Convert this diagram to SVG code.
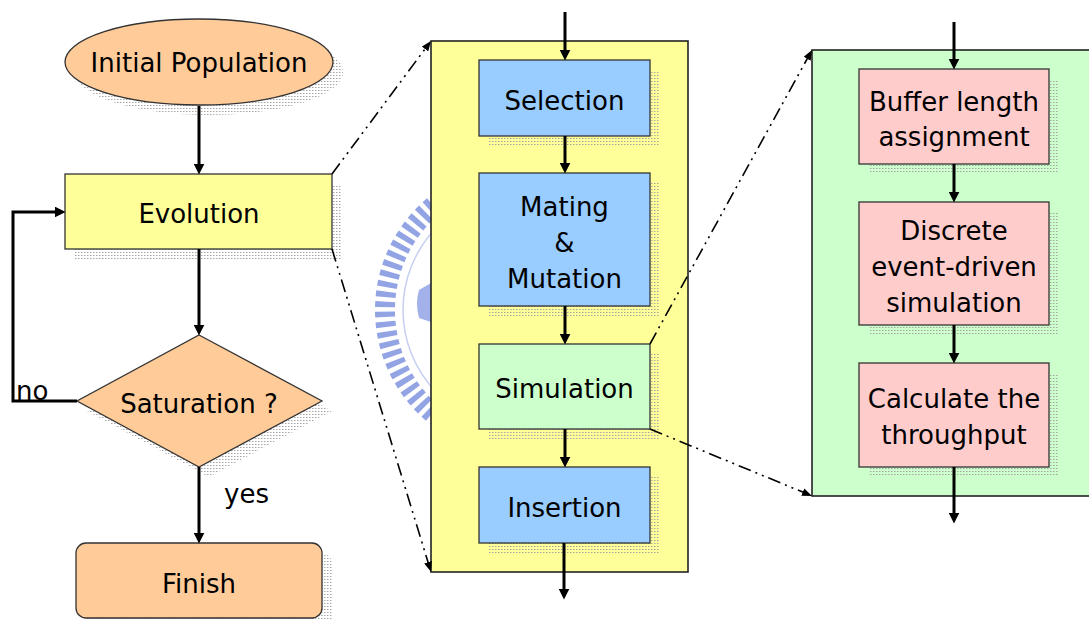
<svg xmlns="http://www.w3.org/2000/svg" width="1089" height="620" viewBox="0 0 1089 620">
  <defs>
    <style>
      text { font-family: "DejaVu Sans", "Liberation Sans", sans-serif; font-size: 26px; fill: #000; }
      .c { text-anchor: middle; }
      .box { stroke: #333; stroke-width: 1.3; }
      .panel { stroke: #222; stroke-width: 1.6; }
      .shadow { fill: url(#dots); stroke: none; }
      .flow { fill: none; stroke: #000; stroke-width: 3; marker-end: url(#arrow); }
      .zoom { fill: none; stroke: #000; stroke-width: 1.6; stroke-dasharray: 13 5 2 5 2 5; marker-end: url(#arrowSmall); }
    </style>
    <!-- dotted drop-shadow texture -->
    <pattern id="dots" width="3" height="3" patternUnits="userSpaceOnUse">
      <rect x="0" y="0" width="1.5" height="1" fill="#a6a6a6"/>
    </pattern>
    <marker id="arrow" viewBox="0 0 10 10" markerUnits="userSpaceOnUse" markerWidth="11" markerHeight="11" refX="4" refY="5" orient="auto">
      <path d="M0,0 L10,5 L0,10 Z" fill="#000"/>
    </marker>
    <marker id="arrowSmall" viewBox="0 0 10 8" markerUnits="userSpaceOnUse" markerWidth="10" markerHeight="8" refX="5" refY="4" orient="auto">
      <path d="M0,0 L10,4 L0,8 Z" fill="#000"/>
    </marker>
  </defs>

  <rect width="1089" height="620" fill="#fff"/>

  <!-- faint emblem behind the middle panel -->
  <g id="emblem">
    <circle cx="521" cy="310" r="136" fill="none" stroke="#93a4e4" stroke-width="20" stroke-dasharray="5.5 4.5"/>
    <circle cx="521" cy="310" r="118" fill="none" stroke="#c6cff3" stroke-width="1.5"/>
    <path d="M431,283 L419,290 Q415,303 419,318 L431,322 Z" fill="#a3b1ea"/>
  </g>

  <!-- zoom panels -->
  <g id="panel-evolution">
    <rect class="panel" x="431" y="41" width="257" height="531" fill="#FFFF99"/>
  </g>
  <g id="panel-simulation">
    <rect class="panel" x="812" y="50" width="285" height="446" fill="#CCFFCC"/>
  </g>

  <!-- main flow -->
  <g id="initial-population">
    <ellipse class="shadow" cx="209" cy="72" rx="134" ry="43"/>
    <ellipse class="box" cx="199" cy="62" rx="134" ry="43" fill="#FFCC99"/>
    <text class="c" x="199" y="72">Initial Population</text>
  </g>
  <g id="evolution">
    <rect class="shadow" x="75" y="184" width="267" height="75"/>
    <rect class="box" x="65" y="174" width="267" height="75" fill="#FFFF99"/>
    <text class="c" x="199" y="223">Evolution</text>
  </g>
  <g id="saturation">
    <polygon class="shadow" points="209,345 332,411 209,477 87,411"/>
    <polygon class="box" points="199,335 322,401 199,467 77,401" fill="#FFCC99"/>
    <text class="c" x="199" y="413">Saturation ?</text>
  </g>
  <g id="finish">
    <rect class="shadow" x="86" y="553" width="246" height="75" rx="10"/>
    <rect class="box" x="76" y="543" width="246" height="75" rx="10" fill="#FFCC99"/>
    <text class="c" x="199" y="593">Finish</text>
  </g>

  <!-- evolution steps -->
  <g id="selection">
    <rect class="shadow" x="489" y="70" width="171" height="76"/>
    <rect class="box" x="479" y="60" width="171" height="76" fill="#99CCFF"/>
    <text class="c" x="564.5" y="110">Selection</text>
  </g>
  <g id="mating-mutation">
    <rect class="shadow" x="489" y="183" width="171" height="133"/>
    <rect class="box" x="479" y="173" width="171" height="133" fill="#99CCFF"/>
    <text class="c" x="564.5" y="216">Mating</text>
    <text class="c" x="564.5" y="252">&amp;</text>
    <text class="c" x="564.5" y="288">Mutation</text>
  </g>
  <g id="simulation">
    <rect class="shadow" x="489" y="354" width="171" height="85"/>
    <rect class="box" x="479" y="344" width="171" height="85" fill="#CCFFCC"/>
    <text class="c" x="564.5" y="398">Simulation</text>
  </g>
  <g id="insertion">
    <rect class="shadow" x="489" y="477" width="171" height="76"/>
    <rect class="box" x="479" y="467" width="171" height="76" fill="#99CCFF"/>
    <text class="c" x="564.5" y="517">Insertion</text>
  </g>

  <!-- simulation steps -->
  <g id="buffer-length">
    <rect class="shadow" x="869" y="79" width="190" height="95"/>
    <rect class="box" x="859" y="69" width="190" height="95" fill="#FFCCCC"/>
    <text class="c" x="954" y="111">Buffer length</text>
    <text class="c" x="954" y="146">assignment</text>
  </g>
  <g id="discrete-event">
    <rect class="shadow" x="869" y="212" width="190" height="123"/>
    <rect class="box" x="859" y="202" width="190" height="123" fill="#FFCCCC"/>
    <text class="c" x="954" y="240">Discrete</text>
    <text class="c" x="954" y="276">event-driven</text>
    <text class="c" x="954" y="312">simulation</text>
  </g>
  <g id="throughput">
    <rect class="shadow" x="869" y="373" width="190" height="104"/>
    <rect class="box" x="859" y="363" width="190" height="104" fill="#FFCCCC"/>
    <text class="c" x="954" y="408">Calculate the</text>
    <text class="c" x="954" y="444">throughput</text>
  </g>

  <g id="connectors">
    <path class="flow" d="M199,106 V168"/>
    <path class="flow" d="M199,249 V329"/>
    <path class="flow" d="M199,467 V537"/>
    <path class="flow" d="M77,401 H13 V212 H59"/>
    <path class="flow" d="M565,12 V54"/>
    <path class="flow" d="M565,136 V167"/>
    <path class="flow" d="M565,306 V338"/>
    <path class="flow" d="M565,429 V461"/>
    <path class="flow" d="M564,543 V593"/>
    <path class="flow" d="M954,22 V63"/>
    <path class="flow" d="M954,164 V196"/>
    <path class="flow" d="M954,325 V357"/>
    <path class="flow" d="M954,467 V517"/>
    <path class="zoom" d="M332,174 L428,45"/>
    <path class="zoom" d="M332,249 L429.5,567"/>
    <path class="zoom" d="M650,344 L809.6,54.4"/>
    <path class="zoom" d="M650,429 L807.4,494"/>
    <text x="16" y="400">no</text>
    <text x="224" y="503">yes</text>
  </g>
</svg>
